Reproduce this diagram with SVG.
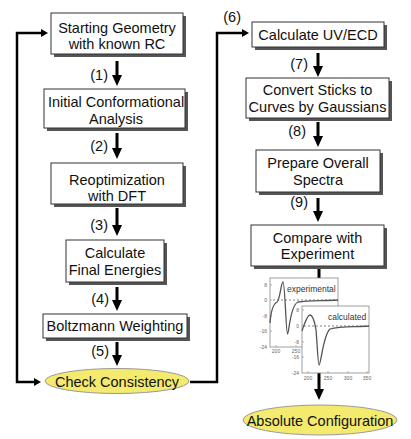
<svg xmlns="http://www.w3.org/2000/svg" width="411" height="439" viewBox="0 0 411 439">
<defs>
<style>
.box{fill:#fff;stroke:#333;stroke-width:1}
.sh{fill:#555}
.t{font-family:"Liberation Sans",Arial,sans-serif;font-size:14.5px;fill:#111;text-anchor:middle}
.lab{font-family:"Liberation Sans",Arial,sans-serif;font-size:14.5px;fill:#111;text-anchor:end}
.ell{fill:#f3ea6e;stroke:#999;stroke-width:1}
.arr{stroke:#000;stroke-width:3;fill:none;marker-end:url(#ah)}
.loop{stroke:#000;stroke-width:2.5;fill:none}
.frame{fill:#fff;stroke:#888;stroke-width:0.8}
.curve{fill:none;stroke:#555;stroke-width:1.3}
.dash{stroke:#666;stroke-width:0.8;stroke-dasharray:2,2}
.ax{font-family:"Liberation Sans",Arial,sans-serif;font-size:5px;fill:#666}
.ct{font-family:"Liberation Sans",Arial,sans-serif;font-size:8.5px;fill:#333}
.tick{stroke:#888;stroke-width:0.6}
</style>
<marker id="ah" viewBox="0 0 11 10" refX="0" refY="5" markerWidth="11" markerHeight="10" markerUnits="userSpaceOnUse" orient="auto"><path d="M0,0 L11,5 L0,10 z" fill="#000"/></marker>
<marker id="as" viewBox="0 0 7 8" refX="0" refY="4" markerWidth="7" markerHeight="8" markerUnits="userSpaceOnUse" orient="auto-start-reverse"><path d="M0,0 L7,4 L0,8 z" fill="#000"/></marker>
</defs>

<g id="connectors">
<line class="arr" x1="117" y1="61" x2="117" y2="75"/>
<line class="arr" x1="117" y1="133" x2="117" y2="148"/>
<line class="arr" x1="117" y1="208" x2="117" y2="225"/>
<line class="arr" x1="117" y1="287" x2="117" y2="300"/>
<line class="arr" x1="117" y1="342" x2="117" y2="355"/>
<line class="arr" x1="318" y1="53" x2="318" y2="66"/>
<line class="arr" x1="318" y1="122" x2="318" y2="136"/>
<line class="arr" x1="318" y1="198" x2="318" y2="211"/>
<line class="arr" x1="319" y1="268" x2="319" y2="389"/>
<path class="loop" d="M34,382 H17 V33 H41" marker-start="url(#as)" marker-end="url(#as)"/>
<path class="loop" d="M190,382 H217 V33 H242" marker-end="url(#as)"/>
<text class="lab" x="108" y="80">(1)</text>
<text class="lab" x="108" y="151">(2)</text>
<text class="lab" x="108" y="230">(3)</text>
<text class="lab" x="109" y="304">(4)</text>
<text class="lab" x="109" y="356">(5)</text>
<text class="lab" x="241" y="22">(6)</text>
<text class="lab" x="308" y="69">(7)</text>
<text class="lab" x="306" y="136">(8)</text>
<text class="lab" x="308" y="207">(9)</text>
</g>

<g id="n1"><rect class="sh" x="54" y="16" width="132" height="41"/><rect class="box" x="51" y="13" width="132" height="41"/><text class="t" x="117" y="33">Starting Geometry</text><text class="t" x="117" y="49">with known RC</text></g>
<g id="n2"><rect class="sh" x="47" y="92" width="141" height="39"/><rect class="box" x="44" y="89" width="141" height="39"/><text class="t" x="116" y="107">Initial Conformational</text><text class="t" x="116" y="124">Analysis</text></g>
<g id="n3"><rect class="sh" x="54" y="166" width="132" height="41"/><rect class="box" x="51" y="163" width="132" height="41"/><text class="t" x="117" y="185">Reoptimization</text><text class="t" x="117" y="201">with DFT</text></g>
<g id="n4"><rect class="sh" x="69" y="243" width="98" height="42"/><rect class="box" x="66" y="240" width="98" height="42"/><text class="t" x="115" y="258">Calculate</text><text class="t" x="115" y="275">Final Energies</text></g>
<g id="n5"><rect class="sh" x="46" y="317" width="144" height="24"/><rect class="box" x="43" y="314" width="144" height="24"/><text class="t" x="115" y="331">Boltzmann Weighting</text></g>
<g id="n6"><ellipse class="ell" cx="117" cy="381" rx="72" ry="12.5"/><text class="t" x="117" y="387">Check Consistency</text></g>

<g id="n7"><rect class="sh" x="255" y="25" width="132" height="25"/><rect class="box" x="252" y="22" width="132" height="25"/><text class="t" x="318" y="40">Calculate UV/ECD</text></g>
<g id="n8"><rect class="sh" x="249" y="81" width="143" height="40"/><rect class="box" x="246" y="78" width="143" height="40"/><text class="t" x="317.5" y="95">Convert Sticks to</text><text class="t" x="317.5" y="112">Curves by Gaussians</text></g>
<g id="n9"><rect class="sh" x="259" y="153" width="124" height="42"/><rect class="box" x="256" y="150" width="124" height="42"/><text class="t" x="318" y="168">Prepare Overall</text><text class="t" x="318" y="185">Spectra</text></g>
<g id="n10"><rect class="sh" x="254" y="228" width="133" height="41"/><rect class="box" x="251" y="225" width="133" height="41"/><text class="t" x="317.5" y="243">Compare with</text><text class="t" x="317.5" y="259">Experiment</text></g>

<g id="chart-experimental">
<rect class="frame" x="270" y="278" width="68" height="69"/>
<line class="tick" x1="270" y1="285" x2="272" y2="285"/><line class="tick" x1="270" y1="300" x2="272" y2="300"/><line class="tick" x1="270" y1="316" x2="272" y2="316"/><line class="tick" x1="270" y1="331" x2="272" y2="331"/>
<line class="tick" x1="276" y1="347" x2="276" y2="345"/><line class="tick" x1="296" y1="347" x2="296" y2="345"/>
<text class="ax" x="267" y="287" text-anchor="end">8</text>
<text class="ax" x="267" y="302" text-anchor="end">0</text>
<text class="ax" x="267" y="318" text-anchor="end">-8</text>
<text class="ax" x="267" y="333" text-anchor="end">-16</text>
<text class="ax" x="267" y="349" text-anchor="end">-24</text>
<text class="ax" x="276" y="353" text-anchor="middle">200</text>
<text class="ax" x="296" y="353" text-anchor="middle">250</text>
<line class="dash" x1="273" y1="300" x2="338" y2="300"/>
<path class="curve" d="M270,323 C271,310 273,304 277,302 C280,300 281,282 283,282 C285,282 286,334 287.5,334 C289,334 290,305 298,302 C308,300 325,301 338,300"/>
<text class="ct" x="287" y="292">experimental</text>
</g>

<g id="chart-calculated">
<rect class="frame" x="302" y="306" width="67" height="67"/>
<line class="tick" x1="302" y1="310" x2="304" y2="310"/><line class="tick" x1="302" y1="326" x2="304" y2="326"/><line class="tick" x1="302" y1="342" x2="304" y2="342"/><line class="tick" x1="302" y1="357" x2="304" y2="357"/>
<line class="tick" x1="308" y1="373" x2="308" y2="371"/><line class="tick" x1="328" y1="373" x2="328" y2="371"/><line class="tick" x1="348" y1="373" x2="348" y2="371"/><line class="tick" x1="367" y1="373" x2="367" y2="371"/>
<text class="ax" x="299" y="312" text-anchor="end">8</text>
<text class="ax" x="299" y="328" text-anchor="end">0</text>
<text class="ax" x="299" y="344" text-anchor="end">-8</text>
<text class="ax" x="299" y="359" text-anchor="end">-16</text>
<text class="ax" x="299" y="375" text-anchor="end">-24</text>
<text class="ax" x="308" y="380" text-anchor="middle">200</text>
<text class="ax" x="328" y="380" text-anchor="middle">250</text>
<text class="ax" x="348" y="380" text-anchor="middle">300</text>
<text class="ax" x="367" y="380" text-anchor="middle">350</text>
<line class="dash" x1="304" y1="326" x2="369" y2="326"/>
<path class="curve" d="M302,331 C304,325 307,315 310,315 C313,315 315,324 316,330 C317,340 318,365 319,365 C321,365 323,335 330,329 C340,326 355,327 369,326"/>
<text class="ct" x="328" y="320">calculated</text>
</g>

<g id="n11"><ellipse class="ell" cx="320" cy="420" rx="77" ry="15"/><text class="t" x="320" y="426">Absolute Configuration</text></g>
</svg>
